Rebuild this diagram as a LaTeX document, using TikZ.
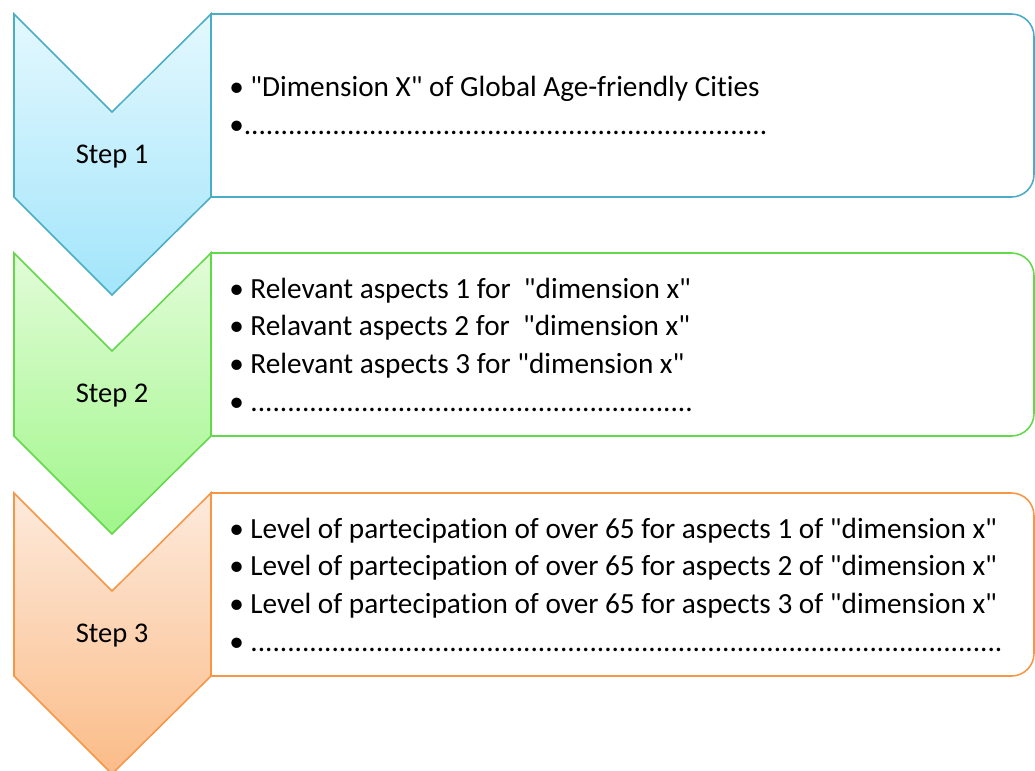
\documentclass[tikz,border=0pt]{standalone}
\usepackage{fontspec}
\setmainfont{Carlito}[Ligatures=NoCommon]
\usetikzlibrary{positioning}

\definecolor{blueline}{HTML}{4BACC6}
\definecolor{bluetop}{HTML}{E4F8FE}
\definecolor{bluebot}{HTML}{A2E5FB}
\definecolor{greenline}{HTML}{62D84A}
\definecolor{greentop}{HTML}{E2FCD8}
\definecolor{greenbot}{HTML}{A0F68A}
\definecolor{orangeline}{HTML}{F79646}
\definecolor{orangetop}{HTML}{FDEADC}
\definecolor{orangebot}{HTML}{FBBC88}

% a row of dots for the open bullet
\newcommand{\dotrow}[1]{\foreach \n in {1,...,#1}{.}}
% straight double quote
\newcommand{\qt}{\textquotedbl}

\tikzset{
  chevron/.style={draw=#1line, top color=#1top, bottom color=#1bot, line width=1.1pt},
  infobox/.style={draw=#1line, fill=white, line width=1.1pt},
  steplabel/.style={font=\fontsize{20.3}{24}\selectfont, anchor=base, inner sep=0pt},
  itemlist/.style={font=\fontsize{20.8}{26.8}\selectfont, align=left, anchor=west, inner sep=0pt},
}

\begin{document}
\begin{tikzpicture}[x=0.025cm, y=-0.025cm]

\useasboundingbox (0,0) rectangle (1035,771);

% step 1
\draw[infobox=blue] (211,14) [rounded corners=16] -- (1034,14) -- (1034,197) [sharp corners] -- (211,197) -- cycle;
\draw[chevron=blue] (14,14) -- (112,112) -- (211,14) -- (211,197) -- (112,295) -- (14,197) -- cycle;
\node[steplabel] (step1) at (112,163) {Step 1};
\node[itemlist] (list1) at (229,105.5) {%
  • \qt Dimension X\qt{} of Global Age-friendly Cities\\
  •\dotrow{71}};

% step 2
\draw[infobox=green] (211,253) [rounded corners=16] -- (1034,253) -- (1034,436) [sharp corners] -- (211,436) -- cycle;
\draw[chevron=green] (14,253) -- (112,351) -- (211,253) -- (211,436) -- (112,534) -- (14,436) -- cycle;
\node[steplabel] (step2) at (112,402) {Step 2};
\node[itemlist] (list2) at (229,344.5) {%
  • Relevant aspects 1 for \ \qt dimension x\qt\\
  • Relavant aspects 2 for \ \qt dimension x\qt\\
  • Relevant aspects 3 for \qt dimension x\qt\\
  • \dotrow{60}};

% step 3
\draw[infobox=orange] (211,493) [rounded corners=16] -- (1034,493) -- (1034,676) [sharp corners] -- (211,676) -- cycle;
\draw[chevron=orange] (14,493) -- (112,591) -- (211,493) -- (211,676) -- (112,774) -- (14,676) -- cycle;
\node[steplabel] (step3) at (112,642) {Step 3};
\node[itemlist] (list3) at (229,584.5) {%
  • Level of partecipation of over 65 for aspects 1 of \qt dimension x\qt\\
  • Level of partecipation of over 65 for aspects 2 of \qt dimension x\qt\\
  • Level of partecipation of over 65 for aspects 3 of \qt dimension x\qt\\
  • \dotrow{102}};

\end{tikzpicture}
\end{document}
